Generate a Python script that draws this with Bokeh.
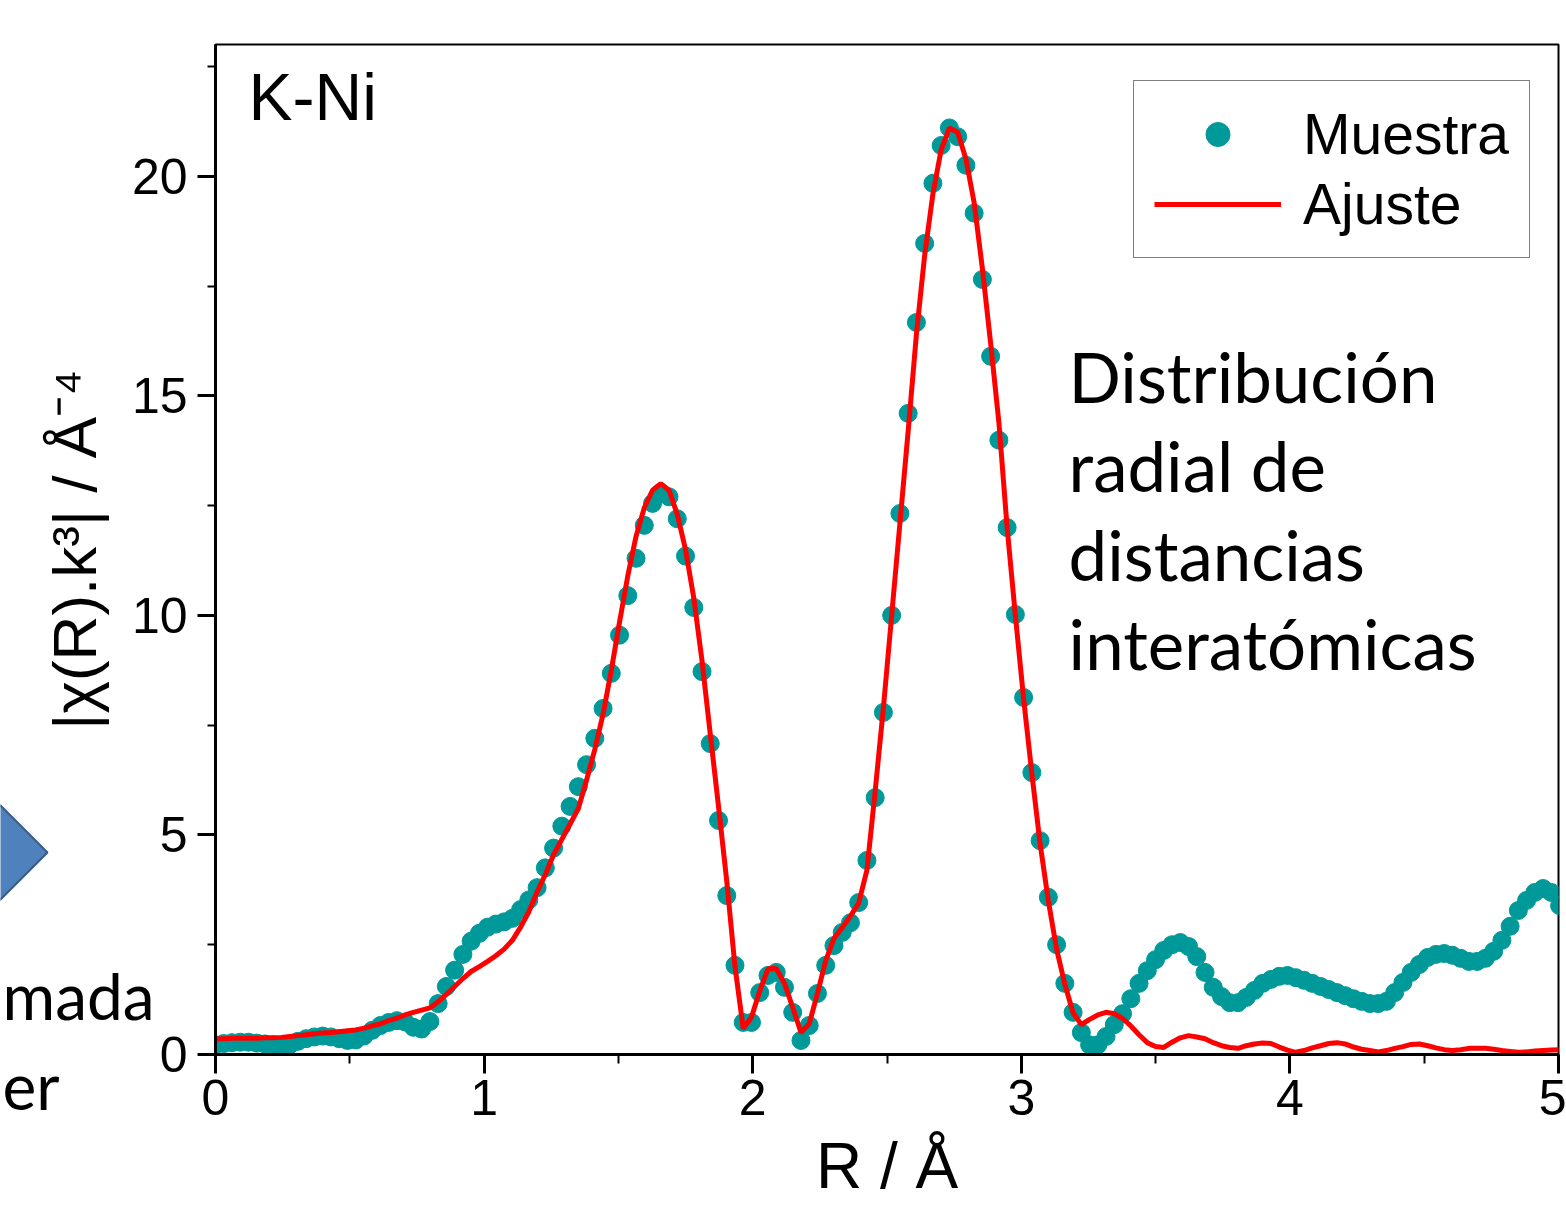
from bokeh.plotting import figure
from bokeh.models import (Range1d, Legend, LegendItem, Label,
                          SingleIntervalTicker, ColumnDataSource)
from bokeh.layouts import column
from bokeh.core.properties import value
from bokeh.embed import file_html
from bokeh.resources import INLINE

# ---------------- data ----------------
R_STEP = 0.0307  # sampling step of the radial grid (Å)

muestra = [
    0.22, 0.25, 0.27, 0.28, 0.28, 0.26, 0.24, 0.22, 0.20, 0.22,
    0.30, 0.36, 0.40, 0.42, 0.40, 0.36, 0.32, 0.33, 0.42, 0.55,
    0.66, 0.73, 0.77, 0.74, 0.62, 0.58, 0.75, 1.16, 1.55, 1.92,
    2.28, 2.58, 2.76, 2.90, 2.97, 3.02, 3.10, 3.30, 3.52, 3.80,
    4.25, 4.70, 5.20, 5.65, 6.10, 6.60, 7.20, 7.88, 8.68, 9.55,
    10.45, 11.30, 12.05, 12.55, 12.80, 12.70, 12.20, 11.35, 10.18, 8.72,
    7.08, 5.33, 3.62, 2.03, 0.73, 0.73, 1.41, 1.80, 1.87, 1.53,
    0.96, 0.32, 0.66, 1.39, 2.03, 2.48, 2.78, 3.00, 3.46, 4.42,
    5.85, 7.79, 10.00, 12.32, 14.60, 16.67, 18.47, 19.84, 20.70, 21.10,
    20.90, 20.25, 19.16, 17.65, 15.90, 13.99, 12.00, 10.02, 8.13, 6.42,
    4.87, 3.58, 2.50, 1.62, 0.96, 0.50, 0.22, 0.22, 0.41, 0.68,
    0.93, 1.27, 1.62, 1.91, 2.16, 2.37, 2.50, 2.55, 2.46, 2.23,
    1.87, 1.53, 1.32, 1.18, 1.18, 1.30, 1.46, 1.62, 1.71, 1.78,
    1.80, 1.75, 1.69, 1.62, 1.55, 1.48, 1.41, 1.34, 1.27, 1.21,
    1.16, 1.16, 1.21, 1.41, 1.64, 1.87, 2.05, 2.21, 2.28, 2.30,
    2.26, 2.19, 2.12, 2.12, 2.19, 2.35, 2.60, 2.92, 3.28, 3.51,
    3.69, 3.78, 3.69, 3.39,
]

ajuste = [
    0.36, 0.36, 0.37, 0.37, 0.37, 0.37, 0.38, 0.38, 0.39, 0.41,
    0.43, 0.45, 0.47, 0.49, 0.50, 0.52, 0.54, 0.56, 0.60, 0.65,
    0.70, 0.77, 0.83, 0.90, 0.96, 1.01, 1.06, 1.20, 1.37, 1.55,
    1.73, 1.89, 2.00, 2.12, 2.25, 2.40, 2.60, 2.90, 3.25, 3.70,
    4.10, 4.55, 4.90, 5.25, 5.60, 6.25, 6.95, 7.75, 8.75, 9.85,
    10.90, 11.80, 12.45, 12.85, 13.00, 12.85, 12.30, 11.50, 10.40, 8.97,
    7.30, 5.65, 3.95, 2.00, 0.59, 0.85, 1.45, 1.95, 1.96, 1.62,
    1.07, 0.50, 0.70, 1.39, 2.14, 2.64, 2.89, 3.15, 3.45, 4.20,
    6.00, 7.90, 10.00, 12.10, 14.20, 16.40, 18.20, 19.60, 20.60, 21.10,
    21.00, 20.40, 19.40, 17.90, 16.20, 14.40, 12.00, 10.00, 8.10, 6.40,
    4.80, 3.50, 2.40, 1.60, 0.95, 0.68, 0.80, 0.90, 0.96, 0.93,
    0.82, 0.65, 0.45, 0.27, 0.18, 0.16, 0.28, 0.38, 0.43, 0.40,
    0.36, 0.27, 0.20, 0.16, 0.14, 0.20, 0.24, 0.26, 0.25, 0.17,
    0.10, 0.05, 0.09, 0.15, 0.20, 0.25, 0.27, 0.24, 0.17, 0.12,
    0.09, 0.06, 0.09, 0.14, 0.18, 0.23, 0.24, 0.20, 0.15, 0.11,
    0.09, 0.11, 0.14, 0.14, 0.14, 0.12, 0.09, 0.07, 0.05, 0.06,
    0.08, 0.09, 0.10, 0.11,
]

R = [round(i * R_STEP, 4) for i in range(len(muestra))]

series_labels = ["Muestra", "Ajuste"]
x_label = "R / Å"
y_label = "|χ(R).k³| / Å⁻⁴"
sample_label = "K-Ni"
note_lines = ["Distribución", "radial de", "distancias", "interatómicas"]

# fragments of the neighbouring slide content, at the left page edge
side_texts = ["mada", "er"]
side_text_x = [2, 2]
side_text_y = [995, 1085]
arrow_x = [-80, 47, -80]
arrow_y = [725, 852, 979]

W, H = 1566, 1209

# ---------------- main chart ----------------
p = figure(width=W, height=H, output_backend="svg", toolbar_location=None,
           x_range=Range1d(0, 5), y_range=Range1d(0, 23),
           min_border_left=215, min_border_right=8, min_border_top=44,
           min_border_bottom=155)
p.frame_align = False
p.background_fill_color = "white"
p.border_fill_color = "white"
p.xgrid.visible = False
p.ygrid.visible = False
p.outline_line_color = "black"
p.outline_line_width = 2
p.outline_line_alpha = 1

p.xaxis.ticker = SingleIntervalTicker(interval=1, num_minor_ticks=2)
p.yaxis.ticker = SingleIntervalTicker(interval=5, num_minor_ticks=2)

for ax in (p.xaxis[0], p.yaxis[0]):
    ax.axis_line_width = 3
    ax.axis_line_color = "black"
    ax.major_tick_line_width = 3
    ax.minor_tick_line_width = 2
    ax.major_tick_line_color = "black"
    ax.minor_tick_line_color = "black"
    ax.major_tick_in = 0
    ax.minor_tick_in = 0
    ax.major_label_text_font = "Liberation Sans"
    ax.major_label_text_font_size = "50px"
    ax.major_label_text_color = "black"
    ax.axis_label_text_font = "Liberation Sans"
    ax.axis_label_text_font_style = "normal"
    ax.axis_label_text_color = "black"

p.xaxis.major_tick_out = 19
p.xaxis.minor_tick_out = 9
p.yaxis.major_tick_out = 18
p.yaxis.minor_tick_out = 8
p.xaxis.major_label_standoff = 6
p.yaxis.major_label_standoff = 10
p.xaxis.axis_label = x_label
p.yaxis.axis_label = y_label
p.xaxis.axis_label_text_font_size = "64px"
p.yaxis.axis_label_text_font_size = "62px"
p.xaxis.axis_label_standoff = 12
p.yaxis.axis_label_standoff = 20

src = ColumnDataSource(dict(R=R, muestra=muestra, ajuste=ajuste))
r_dots = p.scatter("R", "muestra", source=src, size=18, fill_color="#009999",
                   line_color="#009999")
r_line = p.line("R", "ajuste", source=src, line_color="#FF0000", line_width=5)

legend = Legend(items=[LegendItem(label=series_labels[0], renderers=[r_dots]),
                       LegendItem(label=series_labels[1], renderers=[r_line])],
                location=(918, 796), glyph_width=127, glyph_height=60,
                label_height=60, label_standoff=22, padding=20, spacing=4,
                margin=0, border_line_color="black", border_line_width=1.5,
                label_text_font="Liberation Sans", label_text_font_size="57px",
                label_text_color="black", background_fill_color="white",
                background_fill_alpha=1)
p.add_layout(legend)

p.add_layout(Label(x=0.123, y=21.80, text=sample_label, text_font="Liberation Sans",
                   text_font_size="66px", text_color="black",
                   text_baseline="alphabetic"))

note_y = [15.44, 13.41, 11.39, 9.36]
for txt, yy in zip(note_lines, note_y):
    p.add_layout(Label(x=3.176, y=yy, text=txt, text_font="Lato",
                       text_font_size="69px", text_color="black",
                       text_baseline="alphabetic"))

# ---------------- overlay with the slide fragments ----------------
q = figure(width=W, height=H, output_backend="svg", toolbar_location=None,
           x_range=Range1d(0, W), y_range=Range1d(H, 0),
           x_axis_location=None, y_axis_location=None,
           min_border=0, min_border_left=0, min_border_right=0,
           min_border_top=0, min_border_bottom=0)
q.frame_align = False
q.xgrid.visible = False
q.ygrid.visible = False
q.outline_line_color = None
q.background_fill_alpha = 0
q.border_fill_alpha = 0
q.margin = (-H, 0, 0, 0)
q.patch(arrow_x, arrow_y, fill_color="#4F81BD", line_color="#385D8A", line_width=2)
q.text(x=side_text_x, y=side_text_y, text=side_texts, text_font=value("Lato"),
       text_font_size="64px", text_color="black", text_baseline="alphabetic",
       text_align="left")

layout = column(p, q, spacing=0)

open("out.html", "w").write(file_html(layout, INLINE))
